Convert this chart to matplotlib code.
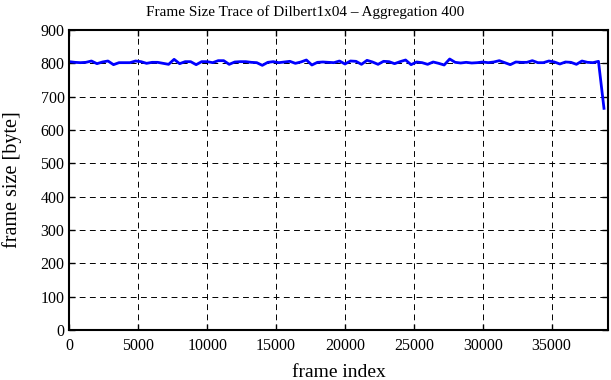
import matplotlib
matplotlib.use("Agg")
import matplotlib.pyplot as plt
import numpy as np

plt.rcParams['font.family'] = ['Liberation Serif', 'DejaVu Serif']

# aggregated frame sizes, one value every 400 frames
step = 400
frame_size = [805, 803, 802, 803, 807, 799, 804, 807, 796, 802,
              802, 802, 807, 805, 800, 803, 803, 800, 797, 812,
              799, 805, 805, 796, 805, 805, 802, 808, 808, 797,
              804, 805, 805, 803, 802, 794, 803, 805, 802, 804,
              806, 800, 804, 810, 795, 803, 804, 803, 802, 807,
              798, 807, 806, 797, 809, 804, 797, 806, 805, 799,
              805, 810, 796, 804, 802, 797, 804, 800, 795, 813,
              803, 801, 803, 801, 802, 804, 802, 804, 808, 802,
              796, 804, 803, 803, 808, 802, 802, 807, 804, 798,
              804, 803, 797, 807, 803, 802, 806, 665]
frame_index = np.arange(len(frame_size)) * step

fig = plt.figure(figsize=(6.11, 3.8), dpi=100)
ax = fig.add_axes([69.4 / 611, 50 / 380, 538.3 / 611, 300 / 380])

ax.plot(frame_index, frame_size, color='#0000ff', lw=2)

ax.set_xlim(0, 39070)
ax.set_ylim(0, 900)
ax.set_xticks(np.arange(0, 35001, 5000))
ax.set_yticks(np.arange(0, 901, 100))
ax.grid(True, color='black', linestyle=(0, (6, 4.5)), linewidth=0.7)
ax.tick_params(direction='in', top=True, right=True, length=4, width=1,
               labelsize=11.5, colors='black')
ax.tick_params(axis='x', pad=6)
for s in ax.spines.values():
    s.set_linewidth(1.5)

ax.set_xlabel('frame index', fontsize=14, labelpad=7)
ax.set_ylabel('frame size [byte]', fontsize=14.5)
ax.yaxis.set_label_coords(-47 / 538.3, 0.5)
fig.text(0.5, 1 - 12 / 380, 'Frame Size Trace of Dilbert1x04 \u2013 Aggregation 400',
         fontsize=11, ha='center', va='center')

fig.savefig('out.png', dpi=100)
